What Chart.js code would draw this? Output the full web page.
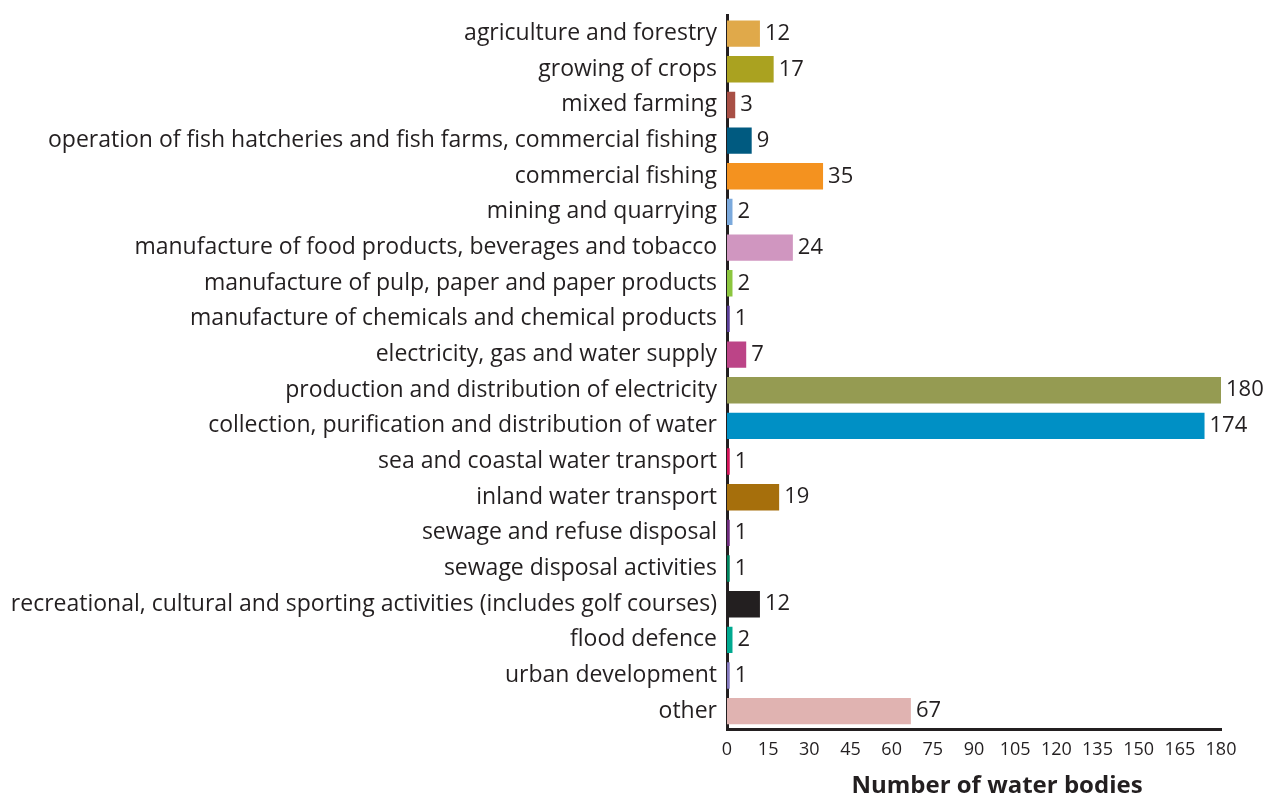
<!DOCTYPE html>
<html>
<head>
<meta charset="utf-8">
<script src="https://cdn.jsdelivr.net/npm/chart.js@4/dist/chart.umd.min.js"></script>
<style>
  html, body { margin: 0; padding: 0; background: #fff; }
  #wrap { width: 1271px; height: 798px; }
</style>
</head>
<body>
<div id="wrap"><canvas id="chart" width="1271" height="798"></canvas></div>
<script>
const categories = [
  "agriculture and forestry",
  "growing of crops",
  "mixed farming",
  "operation of fish hatcheries and fish farms, commercial fishing",
  "commercial fishing",
  "mining and quarrying",
  "manufacture of food products, beverages and tobacco",
  "manufacture of pulp, paper and paper products",
  "manufacture of chemicals and chemical products",
  "electricity, gas and water supply",
  "production and distribution of electricity",
  "collection, purification and distribution of water",
  "sea and coastal water transport",
  "inland water transport",
  "sewage and refuse disposal",
  "sewage disposal activities",
  "recreational, cultural and sporting activities (includes golf courses)",
  "flood defence",
  "urban development",
  "other"
];
const waterBodies = [12, 17, 3, 9, 35, 2, 24, 2, 1, 7, 180, 174, 1, 19, 1, 1, 12, 2, 1, 67];
const barColors = [
  "#e0a94a", "#aaa220", "#a84f45", "#005a80", "#f4921f", "#7ba9dc", "#d096c0",
  "#8cc63f", "#5b3f99", "#bc4487", "#959b52", "#0090c5", "#d4145a", "#a66f0c",
  "#6f2c7f", "#00855f", "#231f20", "#00a990", "#8479be", "#e0b3b1"
];
const xTicks = [0, 15, 30, 45, 60, 75, 90, 105, 120, 135, 150, 165, 180];
const xTitle = 'Number of water bodies';

const FONT = "'Open Sans', sans-serif";
const INK = "#231f20";

// value written just past the end of each bar, plus the axis title
const valueLabels = {
  id: 'valueLabels',
  afterDatasetsDraw(chart){
    const ctx = chart.ctx;
    const meta = chart.getDatasetMeta(0);
    ctx.save();
    ctx.font = `22px ${FONT}`;
    ctx.fillStyle = INK;
    ctx.textAlign = 'left';
    ctx.textBaseline = 'middle';
    meta.data.forEach((bar, i) => {
      ctx.fillText(String(waterBodies[i]), bar.x + 5, bar.y);
    });
    // axis title sits a little right of the axis centre in the original
    const a = chart.chartArea;
    ctx.font = `bold 24px ${FONT}`;
    ctx.textAlign = 'center';
    ctx.fillText(xTitle, (a.left + a.right) / 2 + 23, a.bottom + 57);
    ctx.restore();
  }
};

new Chart(document.getElementById('chart'), {
  type: 'bar',
  data: {
    labels: categories,
    datasets: [{
      data: waterBodies,
      backgroundColor: barColors,
      borderWidth: 0,
      categoryPercentage: 1,
      barPercentage: 0.74
    }]
  },
  plugins: [valueLabels],
  options: {
    indexAxis: 'y',
    responsive: false,
    animation: false,
    layout: { padding: { top: 13, right: 50, left: 0, bottom: 0 } },
    plugins: { legend: { display: false }, tooltip: { enabled: false } },
    scales: {
      x: {
        min: 0, max: 180,
        afterBuildTicks(scale){ scale.ticks = xTicks.map(v => ({ value: v })); },
        grid: { display: false },
        border: { display: true, color: INK, width: 3 },
        ticks: { color: INK, font: { family: FONT, size: 18 }, padding: 2, maxRotation: 0, autoSkip: false },
        afterFit(scale){ scale.height = 69; }
      },
      y: {
        grid: { display: false },
        border: { display: true, color: INK, width: 3 },
        ticks: { color: INK, font: { family: FONT, size: 23 }, padding: 2, autoSkip: false },
        afterFit(scale){ scale.width = 727; }
      }
    }
  }
});
</script>
</body>
</html>
